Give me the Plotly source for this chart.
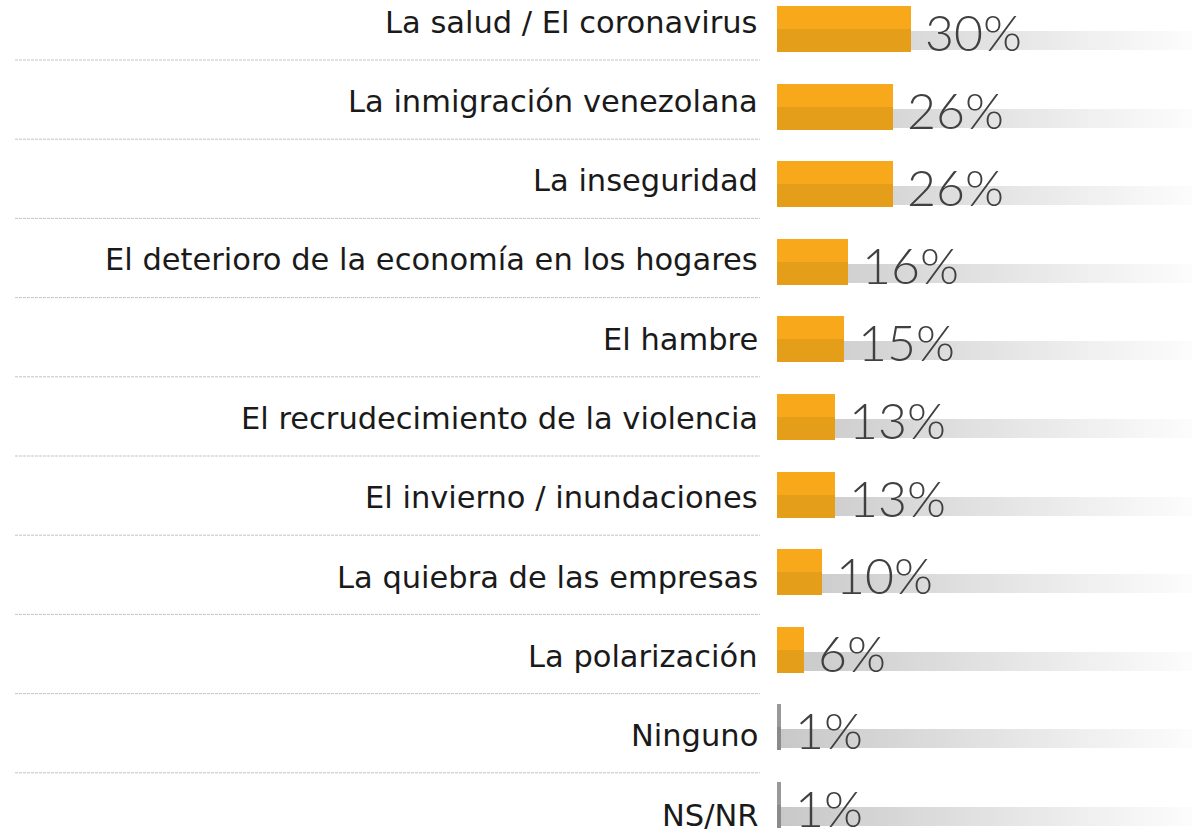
import plotly.graph_objects as go

categories = [
    "La salud / El coronavirus",
    "La inmigración venezolana",
    "La inseguridad",
    "El deterioro de la economía en los hogares",
    "El hambre",
    "El recrudecimiento de la violencia",
    "El invierno / inundaciones",
    "La quiebra de las empresas",
    "La polarización",
    "Ninguno",
    "NS/NR",
]
values = [30, 26, 26, 16, 15, 13, 13, 10, 6, 1, 1]
value_labels = [f"{v}%" for v in values]
neutral = ["Ninguno", "NS/NR"]

# layout constants (pixels)
W, H = 1192, 832
L = 777
ROW = 77.6          # bar row spacing
TOP = 29            # first bar center
PX_PER_UNIT = 4.46
XMAX = (W - L) / PX_PER_UNIT
LABEL_ROW = 79.3
SEP_ROW = 79.2

n = len(categories)
idx = list(range(n))

def py2d(p):
    return (p - TOP) / ROW

fig = go.Figure()

# gradient background track
NSEG = 60
seg = XMAX / NSEG
c0, c1 = 200, 252
for k in range(NSEG):
    t = k / (NSEG - 1)
    c = int(round(c0 + (c1 - c0) * t))
    fig.add_trace(go.Bar(
        orientation="h", y=idx, x=[seg * 1.02] * n, base=[k * seg] * n,
        width=19 / ROW, offset=2 / ROW,
        marker=dict(color=f"rgb({c},{c},{c})", line=dict(width=0)),
        hoverinfo="skip", showlegend=False))

top_colors = ["#999999" if c in neutral else "#F7A81B" for c in categories]
bot_colors = ["#8a8a8a" if c in neutral else "#E59E1A" for c in categories]
half = 23 / ROW
fig.add_trace(go.Bar(orientation="h", y=idx, x=values, width=half, offset=-half,
                     marker=dict(color=top_colors, line=dict(width=0)),
                     hoverinfo="skip", showlegend=False))
fig.add_trace(go.Bar(orientation="h", y=idx, x=values, width=half, offset=0,
                     marker=dict(color=bot_colors, line=dict(width=0)),
                     hoverinfo="skip", showlegend=False))

annotations = []
for i, (cat, v, lab) in enumerate(zip(categories, values, value_labels)):
    ly = py2d(22 + LABEL_ROW * i)
    annotations.append(dict(
        x=0, xref="paper", y=ly, yref="y", text=cat, showarrow=False,
        xanchor="right", yanchor="middle", xshift=-17,
        font=dict(family="DejaVu Sans", size=30.5, color="#1a1a1a")))
    annotations.append(dict(
        x=v, xref="x", y=py2d(TOP + 3 + ROW * i), yref="y", text=lab, showarrow=False,
        xanchor="left", yanchor="middle", xshift=12,
        font=dict(family="Lato", size=50, color="#404040", weight=300)))

shapes = []
for k in range(n - 1):
    sy = py2d(60 + SEP_ROW * k)
    shapes.append(dict(
        type="line", xref="paper", yref="y",
        x0=(15 - L) / (W - L), x1=(760 - L) / (W - L), y0=sy, y1=sy,
        line=dict(color="#c4c4c4", width=1, dash="3px,1px")))

fig.update_layout(
    width=W, height=H,
    margin=dict(l=L, r=0, t=0, b=0),
    paper_bgcolor="white", plot_bgcolor="white",
    barmode="overlay", bargap=0,
    xaxis=dict(range=[0, XMAX], visible=False, fixedrange=True),
    yaxis=dict(range=[py2d(H), py2d(0)], visible=False, fixedrange=True),
    annotations=annotations, shapes=shapes,
)

fig.write_html("out.html", config={"displayModeBar": False})

# remove default page margin so the figure sits at the window's top-left
with open("out.html", "r", encoding="utf-8") as f:
    html = f.read()
html = html.replace("<body>", '<body style="margin:0;padding:0;overflow:hidden">', 1)
with open("out.html", "w", encoding="utf-8") as f:
    f.write(html)
